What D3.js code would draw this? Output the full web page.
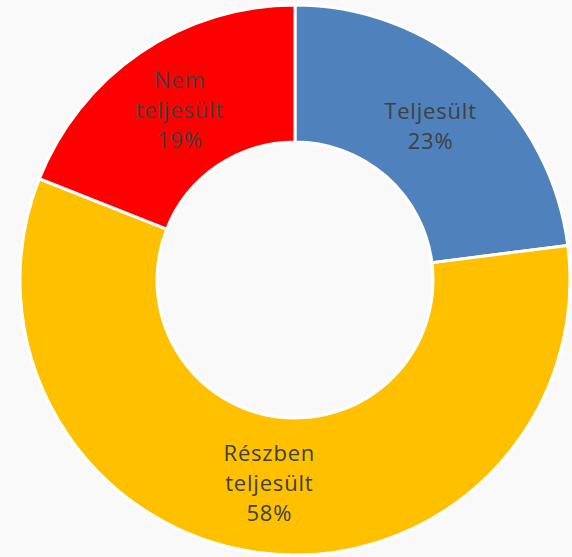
<!DOCTYPE html>
<html><head><meta charset="utf-8">
<script src="https://cdn.jsdelivr.net/npm/d3@7"></script>
<style>html,body{margin:0;padding:0;background:#f9f9f9;}svg{display:block;}</style>
</head><body>
<svg id="chart" width="572" height="557"></svg>
<script>
const categories = ["Teljesült", "Részben teljesült", "Nem teljesült"];
const labelLines = [["Teljesült"], ["Részben", "teljesült"], ["Nem", "teljesült"]];
const values = [23, 58, 19];
const percentLabels = ["23%", "58%", "19%"];
const colors = ["#4f81bd", "#ffc000", "#ff0000"];

const svg = d3.select("#chart");
const cx = 295, cy = 280, outerR = 275, innerR = 138;
const g = svg.append("g").attr("transform", `translate(${cx},${cy})`);

const pie = d3.pie().sort(null).value(d => d)(values);
const arc = d3.arc().innerRadius(innerR).outerRadius(outerR);
const labelArc = d3.arc().innerRadius(205).outerRadius(205);

g.selectAll("path").data(pie).join("path")
  .attr("d", arc)
  .attr("fill", (d, i) => colors[i])
  .attr("stroke", "#ffffff")
  .attr("stroke-width", 3)
  .attr("stroke-linejoin", "round");

const lh = 30;
pie.forEach((d, i) => {
  const [x, y] = labelArc.centroid(d);
  const lines = labelLines[i].concat([percentLabels[i]]);
  const y0 = y - (lines.length - 1) * lh / 2;
  lines.forEach((ln, k) => {
    g.append("text")
      .attr("x", x)
      .attr("y", y0 + k * lh)
      .attr("dy", "0.35em")
      .attr("text-anchor", "middle")
      .attr("font-family", "'Open Sans', 'DejaVu Sans', sans-serif")
      .attr("font-size", 22)
      .attr("letter-spacing", 0.8)
      .attr("fill", "#404040")
      .text(ln);
  });
});
</script>
</body></html>
